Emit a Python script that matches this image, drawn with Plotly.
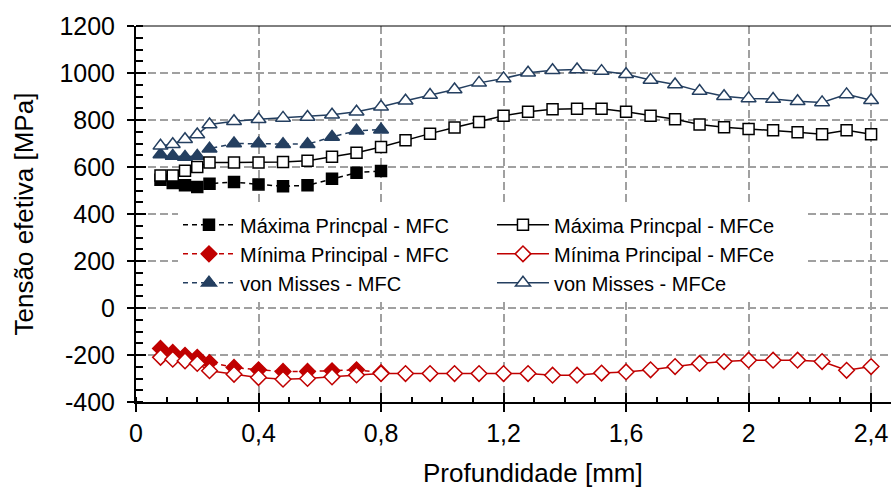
import plotly.graph_objects as go

# ---- data ----
x_mfc = [0.08, 0.12, 0.16, 0.20, 0.24, 0.32, 0.40, 0.48, 0.56, 0.64, 0.72, 0.80]
max_mfc = [546, 532, 522, 515, 529, 536, 526, 518, 522, 550, 576, 583]
min_mfc = [-172, -189, -201, -210, -232, -253, -263, -270, -270, -267, -263, -275]
vm_mfc = [653, 647, 643, 647, 678, 700, 700, 697, 697, 728, 754, 759]

x_mfce = [0.08, 0.12, 0.16, 0.20, 0.24, 0.32, 0.40, 0.48, 0.56, 0.64, 0.72, 0.80,
          0.88, 0.96, 1.04, 1.12, 1.20, 1.28, 1.36, 1.44, 1.52, 1.60, 1.68, 1.76,
          1.84, 1.92, 2.00, 2.08, 2.16, 2.24, 2.32, 2.40]
max_mfce = [564, 564, 584, 600, 619, 619, 619, 621, 627, 644, 661, 685,
            714, 742, 768, 792, 818, 835, 846, 848, 848, 835, 818, 803,
            781, 769, 762, 756, 748, 739, 756, 739]
min_mfce = [-210, -218, -225, -236, -267, -282, -296, -303, -300, -293, -285, -279,
            -279, -279, -279, -279, -279, -279, -286, -286, -277, -272, -263, -249,
            -236, -228, -222, -222, -222, -228, -265, -249]
vm_mfce = [690, 697, 718, 738, 781, 795, 803, 809, 813, 822, 835, 856,
           882, 906, 930, 958, 977, 1001, 1012, 1015, 1008, 995, 970, 951,
           923, 901, 892, 889, 880, 875, 909, 884]

x_tick_vals = [0, 0.4, 0.8, 1.2, 1.6, 2.0, 2.4]
x_tick_labels = ["0", "0,4", "0,8", "1,2", "1,6", "2", "2,4"]
y_tick_vals = [-400, -200, 0, 200, 400, 600, 800, 1000, 1200]
y_tick_labels = ["-400", "-200", "0", "200", "400", "600", "800", "1000", "1200"]

BLACK = "#000000"
RED = "#C00000"
NAVY = "#243F60"
FONT = "Liberation Sans, Arial, sans-serif"

fig = go.Figure()

def add(x, y, name, color, symbol, filled, dash, rank):
    fig.add_trace(go.Scatter(
        x=x, y=y, name=name, mode="lines+markers", legendrank=rank,
        line=dict(color=color, width=1.5, dash=dash),
        marker=dict(symbol=symbol,
                    size={"square": 11, "diamond": 12, "triangle-up": 13}[symbol],
                    color=color if filled else "white",
                    line=dict(color=color, width=1.5)),
    ))

# MFC (dashed, filled) drawn first
add(x_mfc, max_mfc, "Máxima Princpal - MFC", BLACK, "square", True, "5px,4px", 1)
add(x_mfc, min_mfc, "Mínima Principal - MFC", RED, "diamond", True, "5px,4px", 3)
add(x_mfc, vm_mfc, "von Misses - MFC", NAVY, "triangle-up", True, "5px,4px", 5)
# MFCe (solid, open)
add(x_mfce, max_mfce, "Máxima Princpal - MFCe", BLACK, "square", False, "solid", 2)
add(x_mfce, min_mfce, "Mínima Principal - MFCe", RED, "diamond", False, "solid", 4)
add(x_mfce, vm_mfce, "von Misses - MFCe", NAVY, "triangle-up", False, "solid", 6)

# empty trace to hold the overlay axes (inside part of major ticks)
fig.add_trace(go.Scatter(x=[], y=[], xaxis="x2", yaxis="y2", showlegend=False,
                         hoverinfo="skip"))

XR = [0, 2.465]
YR = [-400, 1200]

fig.update_layout(
    width=891, height=489,
    margin=dict(l=136, r=0, t=26, b=87),
    paper_bgcolor="white", plot_bgcolor="white",
    font=dict(family=FONT, color="black"),
    showlegend=True,
    legend=dict(
        orientation="h", x=0.0556, y=0.523, xanchor="left", yanchor="top",
        bgcolor="white", font=dict(size=20, family=FONT),
        entrywidth=247, entrywidthmode="pixels", itemwidth=52,
        traceorder="normal",
    ),
    xaxis=dict(
        range=XR, tickmode="array", tickvals=x_tick_vals, ticktext=x_tick_labels,
        showline=True, linecolor="black", linewidth=2,
        ticks="outside", ticklen=8, tickwidth=1.5, tickcolor="black",
        tickfont=dict(size=25, family=FONT),
        showgrid=True, gridcolor="#A0A0A0", gridwidth=1.5, griddash="8px,4px",
        minor=dict(ticks="inside", dtick=0.1, ticklen=5, tickwidth=1.5,
                   tickcolor="black", showgrid=False),
        zeroline=False, anchor="y", ticklabeloverflow="allow",
    ),
    yaxis=dict(
        range=YR, tickmode="array", tickvals=y_tick_vals, ticktext=y_tick_labels,
        showline=True, linecolor="black", linewidth=2,
        ticks="outside", ticklen=7, tickwidth=1.5, tickcolor="black",
        tickfont=dict(size=25, family=FONT), ticklabelstandoff=7,
        showgrid=True, gridcolor="#A0A0A0", gridwidth=1.5, griddash="8px,4px",
        minor=dict(ticks="inside", dtick=50, ticklen=7, tickwidth=1.5,
                   tickcolor="black", showgrid=False),
        zeroline=False, anchor="x",
        title=dict(text="Tensão efetiva [MPa]", font=dict(size=26, family=FONT),
                   standoff=18),
    ),
    xaxis2=dict(range=XR, overlaying="x", anchor="y2", tickmode="array",
                tickvals=x_tick_vals, showticklabels=False, ticks="inside",
                ticklen=9, tickwidth=1.5, tickcolor="black", showgrid=False,
                showline=False, zeroline=False),
    yaxis2=dict(range=YR, overlaying="y", anchor="x2", side="left", tickmode="array",
                tickvals=y_tick_vals, showticklabels=False, ticks="inside",
                ticklen=10, tickwidth=1.5, tickcolor="black", showgrid=False,
                showline=False, zeroline=False),
    annotations=[dict(text="Profundidade [mm]", xref="paper", yref="paper",
                      x=(532.7 - 136) / 755, y=-0.19, xanchor="center", yanchor="middle",
                      showarrow=False, font=dict(size=26, family=FONT))],
    shapes=[dict(type="line", xref="paper", yref="paper", x0=0, x1=1, y0=1, y1=1,
                 line=dict(color="black", width=1))],
)

fig.write_html(
    "out.html",
    config={"displayModeBar": False},
    post_script="document.body.style.margin='0';document.body.style.overflow='hidden';",
)
